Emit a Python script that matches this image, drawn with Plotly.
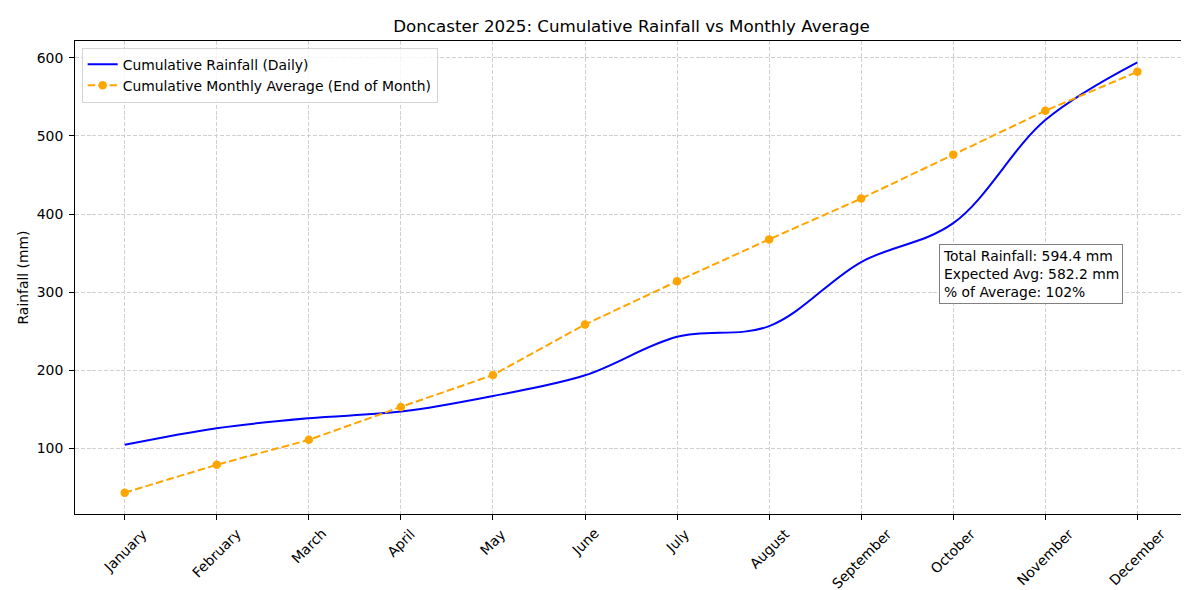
import plotly.graph_objects as go

months = ["January", "February", "March", "April", "May", "June", "July",
          "August", "September", "October", "November", "December"]
month_pos = list(range(12))

# Cumulative rainfall (daily, smoothed) read at each month tick
cumulative_rainfall = [104.3, 125.6, 138.3, 146.8, 166.9, 193.3,
                       242.7, 256.3, 338.5, 388.3, 520.4, 594.4]

# Cumulative monthly average at end of month
cumulative_average = [42.9, 78.7, 110.6, 152.8, 193.7, 258.4,
                      313.8, 367.5, 419.8, 476.1, 532.3, 582.2]

y_ticks = [100, 200, 300, 400, 500, 600]

total_rain = 594.4
expected_avg = 582.2
pct_avg = 102

FONT = "DejaVu Sans"
FS = 13.9

fig = go.Figure()
fig.add_trace(go.Scatter(
    x=month_pos, y=cumulative_rainfall, mode="lines",
    name="Cumulative Rainfall (Daily)",
    line=dict(color="blue", width=2, shape="spline", smoothing=1.0),
))
fig.add_trace(go.Scatter(
    x=month_pos, y=cumulative_average, mode="lines+markers",
    name="Cumulative Monthly Average (End of Month)",
    line=dict(color="orange", width=2, dash="7.6px,3.3px"),
    marker=dict(color="orange", size=8.5),
))

# Stats box
fig.add_annotation(
    xref="paper", yref="paper", x=0.776, y=0.571,
    xanchor="left", yanchor="top", align="left",
    text=(f"Total Rainfall: {total_rain} mm<br>"
          f"Expected Avg: {expected_avg} mm<br>"
          f"% of Average: {pct_avg}%"),
    showarrow=False,
    font=dict(family=FONT, size=FS, color="black"),
    bgcolor="white", bordercolor="#808080", borderwidth=1, borderpad=3,
)

# Rotated month labels, centred under each tick (matplotlib-style)
for pos, name in zip(month_pos, months):
    fig.add_annotation(
        x=pos, xref="x", y=0, yref="paper",
        xanchor="center", yanchor="top", yshift=-9,
        text=name, textangle=-45, showarrow=False,
        font=dict(family=FONT, size=FS, color="black"),
    )

axis_common = dict(
    showline=True, linecolor="black", linewidth=1, mirror=True,
    ticks="outside", ticklen=5, tickcolor="black",
    showgrid=True, gridcolor="#d0d0d0", griddash="4px,1.8px", gridwidth=1,
    zeroline=False, automargin=False,
    tickfont=dict(family=FONT, size=FS, color="black"),
)

fig.update_layout(
    width=1189, height=590,
    paper_bgcolor="white", plot_bgcolor="white",
    margin=dict(l=67, r=9, t=33, b=84),
    title=dict(text="Doncaster 2025: Cumulative Rainfall vs Monthly Average",
               x=0.5, xref="paper", xanchor="center",
               y=1, yref="paper", yanchor="bottom", pad=dict(b=9),
               font=dict(family=FONT, size=16.7, color="black")),
    xaxis=dict(
        tickmode="array", tickvals=month_pos, ticktext=months,
        showticklabels=False, range=[-0.54, 11.55], **axis_common,
    ),
    yaxis=dict(
        tickmode="array", tickvals=y_ticks,
        range=[15.6, 621.7], ticklabelstandoff=3,
        title=dict(text="Rainfall (mm)", standoff=4,
                   font=dict(family=FONT, size=FS, color="black")),
        **axis_common,
    ),
    legend=dict(
        x=0.006, y=0.986, xanchor="left", yanchor="top",
        bgcolor="rgba(255,255,255,0.8)", bordercolor="#d5d5d5", borderwidth=1,
        font=dict(family=FONT, size=FS, color="black"),
        itemwidth=30,
    ),
    showlegend=True,
)

fig.write_html("out.html")
